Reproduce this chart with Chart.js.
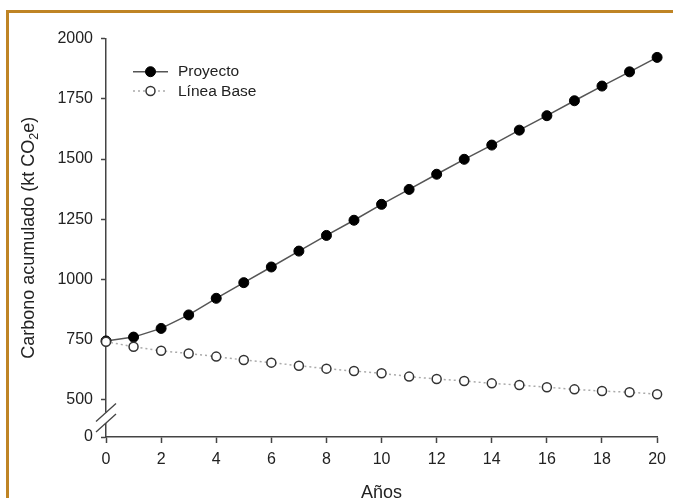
<!DOCTYPE html>
<html lang="es">
  <head>
    <meta charset="UTF-8" />
    <title>Carbono acumulado</title>
    <script src="https://cdn.jsdelivr.net/npm/chart.js@4.4.0/dist/chart.umd.min.js"></script>
    <style>
      html, body { margin: 0; padding: 0; background: #fff; overflow: hidden; }
      #frame {
        position: absolute; left: 6px; top: 10px; width: 720px; height: 560px;
        border-top: 3px solid #bf8424; border-left: 3px solid #bf8424;
      }
      #holder { position: absolute; left: 0; top: 0; width: 673px; height: 498px; }
    </style>
  </head>
  <body>
    <div id="frame"></div>
    <div id="holder"><canvas id="myChart"></canvas></div>

    <script>
      // years and series
      var years = [0, 1, 2, 3, 4, 5, 6, 7, 8, 9, 10, 11, 12, 13, 14, 15, 16, 17, 18, 19, 20];
      var proyecto = [745, 761, 797, 853, 922, 987, 1052, 1118, 1183, 1246, 1312,
                      1374, 1437, 1499, 1558, 1620, 1680, 1742, 1803, 1862, 1922];
      var lineaBase = [742, 721, 704, 693, 680, 666, 655, 642, 630, 620, 611,
                       597, 587, 579, 569, 562, 553, 544, 537, 532, 524];
      var seriesNames = ["Proyecto", "Línea Base"];

      // tick labels
      var xTicks = [0, 2, 4, 6, 8, 10, 12, 14, 16, 18, 20];
      var yTicks = [500, 750, 1000, 1250, 1500, 1750, 2000];
      var yTicksLow = [0];

      var axisColor = "#444";
      var textColor = "#222";
      var tickFont = { family: "'Liberation Sans', Arial, sans-serif", size: 16 };

      function toPoints(vals) {
        return years.map(function (x, i) { return { x: x, y: vals[i] }; });
      }

      function plain(v) { return String(v); }

      // legend drawn inside the plot, plus y title with subscript and the axis break
      var extras = {
        id: "extras",
        afterDraw: function (chart) {
          var ctx = chart.ctx;
          var yUp = chart.scales.y;
          var yLow = chart.scales.yLow;
          var ax = yUp.right;

          // axis break
          var brk = yUp.bottom;
          ctx.save();
          ctx.fillStyle = "#fff";
          ctx.fillRect(ax - 3, brk, 6, 10.5);
          ctx.strokeStyle = axisColor;
          ctx.lineWidth = 1.3;
          [0, 10.5].forEach(function (d) {
            ctx.beginPath();
            ctx.moveTo(ax - 10, brk + d + 9);
            ctx.lineTo(ax + 10, brk + d - 9);
            ctx.stroke();
          });
          ctx.restore();

          // legend
          ctx.save();
          chart.data.datasets.forEach(function (ds, i) {
            var ly = 71.7 + i * 19.3;
            ctx.beginPath();
            ctx.strokeStyle = ds.borderColor;
            ctx.lineWidth = ds.borderWidth;
            ctx.setLineDash(ds.borderDash || []);
            ctx.moveTo(133, ly);
            ctx.lineTo(168, ly);
            ctx.stroke();
            ctx.setLineDash([]);
            ctx.beginPath();
            ctx.arc(150.5, ly, ds.pointRadius, 0, Math.PI * 2);
            ctx.fillStyle = ds.pointBackgroundColor;
            ctx.fill();
            ctx.lineWidth = ds.pointBorderWidth;
            ctx.strokeStyle = ds.pointBorderColor;
            ctx.stroke();
            ctx.fillStyle = textColor;
            ctx.font = "15.5px 'Liberation Sans', Arial, sans-serif";
            ctx.textBaseline = "middle";
            ctx.textAlign = "left";
            ctx.fillText(ds.label, 178, ly + 0.5);
          });
          ctx.restore();

          // y title
          var part1 = "Carbono acumulado (kt CO";
          var sub = "2";
          var part2 = "e)";
          var big = "18px 'Liberation Sans', Arial, sans-serif";
          var small = "12.5px 'Liberation Sans', Arial, sans-serif";
          ctx.save();
          ctx.font = big;
          var w1 = ctx.measureText(part1).width;
          var w3 = ctx.measureText(part2).width;
          ctx.font = small;
          var w2 = ctx.measureText(sub).width;
          var total = w1 + w2 + w3;
          var cy = (yUp.top + yLow.bottom) / 2;
          ctx.translate(33.5, cy);
          ctx.rotate(-Math.PI / 2);
          ctx.fillStyle = textColor;
          ctx.textBaseline = "alphabetic";
          ctx.textAlign = "left";
          ctx.font = big;
          ctx.fillText(part1, -total / 2, 0);
          ctx.font = small;
          ctx.fillText(sub, -total / 2 + w1, 4);
          ctx.font = big;
          ctx.fillText(part2, -total / 2 + w1 + w2, 0);
          ctx.restore();
        },
      };

      var ctx = document.getElementById("myChart").getContext("2d");
      var myChart = new Chart(ctx, {
        type: "line",
        data: {
          datasets: [
            {
              label: seriesNames[0],
              data: toPoints(proyecto),
              yAxisID: "y",
              order: 1,
              borderColor: "#555",
              borderWidth: 1.5,
              pointRadius: 5,
              pointBackgroundColor: "#000",
              pointBorderColor: "#000",
              pointBorderWidth: 1,
              tension: 0,
              clip: false,
            },
            {
              label: seriesNames[1],
              data: toPoints(lineaBase),
              yAxisID: "y",
              order: 0,
              borderColor: "#aaa",
              borderWidth: 1.5,
              borderDash: [2, 3],
              pointRadius: 4.5,
              pointBackgroundColor: "#fff",
              pointBorderColor: "#333",
              pointBorderWidth: 1.5,
              tension: 0,
              clip: false,
            },
          ],
        },
        options: {
          responsive: true,
          maintainAspectRatio: false,
          animation: false,
          layout: { padding: { top: 38.6, right: 12, left: 0, bottom: 0 } },
          plugins: { legend: { display: false }, tooltip: { enabled: false } },
          scales: {
            x: {
              type: "linear",
              min: 0,
              max: 20,
              afterBuildTicks: function (s) { s.ticks = xTicks.map(function (v) { return { value: v }; }); },
              afterFit: function (s) { s.height = 61; },
              border: { display: true, color: axisColor, width: 1.5 },
              grid: { drawOnChartArea: false, tickLength: 6, tickColor: axisColor, tickWidth: 1.5 },
              ticks: { padding: 7, color: textColor, font: tickFont, maxRotation: 0, callback: plain },
              title: {
                display: true,
                text: "Años",
                color: textColor,
                padding: 0,
                font: { family: "'Liberation Sans', Arial, sans-serif", size: 18, lineHeight: 0.5 },
              },
            },
            yLow: {
              type: "linear",
              position: "left",
              stack: "yaxis",
              stackWeight: 1,
              min: 0,
              max: 100,
              afterBuildTicks: function (s) { s.ticks = yTicksLow.map(function (v) { return { value: v }; }); },
              afterFit: function (s) { s.width = 106; },
              border: { display: true, color: axisColor, width: 1.5 },
              grid: { drawOnChartArea: false, tickLength: 5, tickColor: axisColor, tickWidth: 1.5 },
              ticks: { padding: 8, color: textColor, font: tickFont, callback: plain },
            },
            y: {
              type: "linear",
              position: "left",
              stack: "yaxis",
              stackWeight: 15.26,
              min: 448,
              max: 2000,
              afterBuildTicks: function (s) { s.ticks = yTicks.map(function (v) { return { value: v }; }); },
              afterFit: function (s) { s.width = 106; },
              border: { display: true, color: axisColor, width: 1.5 },
              grid: { drawOnChartArea: false, tickLength: 5, tickColor: axisColor, tickWidth: 1.5 },
              ticks: { padding: 8, color: textColor, font: tickFont, callback: plain },
            },
          },
        },
        plugins: [extras],
      });
    </script>
  </body>
</html>
